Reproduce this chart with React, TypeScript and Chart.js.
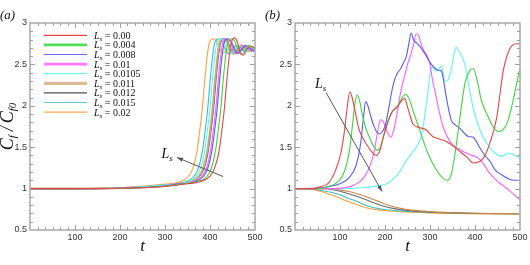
import React, { useEffect, useRef } from 'react';
import { Chart, registerables } from 'chart.js';
Chart.register(...registerables);

type P = [number, number];

const LS_LABELS = ['0.00', '0.004', '0.008', '0.01', '0.0105', '0.011', '0.012', '0.015', '0.02'];
const COLORS = ['#e64545', '#3ed43e', '#5a5af2', '#ff5cff', '#5cf5f5', '#c9a57e', '#555555', '#3fbdbd', '#ffa040'];
const COLORS_B = ['#e64545', '#3ed43e', '#5a5af2', '#ff5cff', '#5cf5f5', '#c88a4c', '#6a6a6a', '#3fbdbd', '#ffa040'];
const LEGEND_COLORS = ['#e64545', '#55dd55', '#6a6af5', '#ff77ff', '#77f7f7', '#dcbc98', '#555555', '#66c8c8', '#ffa850'];
const LEGEND_WIDTHS = [1.2, 2.6, 1.2, 2.6, 1.2, 3.2, 1.2, 1.2, 1.2];

const X_TICKS = [100, 200, 300, 400, 500];
const Y_TICKS = [0.5, 1, 1.5, 2, 2.5, 3];

// ---------- Panel (a) ----------
const a_L000: P[] = [[0,1],[100,1],[200,1.004],[300,1.025],[337,1.05],[381,1.09],[400,1.15],[411,1.26],[420,1.45],[426,1.69],[432,1.97],[437,2.29],[443,2.61],[448,2.77],[454,2.82],[461,2.77],[467,2.64],[474,2.61],[483,2.69],[493,2.72],[500,2.69]];
const a_L004: P[] = [[0,1],[100,1],[200,1.005],[300,1.028],[329,1.05],[373,1.085],[392,1.14],[403,1.245],[412,1.45],[418,1.69],[424,1.97],[429,2.29],[435,2.61],[440,2.77],[448,2.81],[455,2.78],[463,2.67],[470,2.62],[478,2.67],[487,2.73],[496,2.70],[500,2.69]];
const a_L008: P[] = [[0,1],[100,1],[200,1.005],[300,1.03],[321,1.05],[365,1.08],[384,1.14],[395,1.245],[404,1.45],[410,1.69],[416,1.97],[421,2.29],[427,2.61],[432,2.77],[440,2.81],[447,2.78],[455,2.68],[462,2.63],[470,2.67],[479,2.73],[488,2.70],[498,2.66],[500,2.67]];
const a_L010: P[] = [[0,1],[100,1],[200,1.005],[300,1.032],[318,1.05],[362,1.08],[381,1.14],[392,1.245],[401,1.45],[407,1.69],[413,1.97],[418,2.29],[424,2.61],[429,2.77],[437,2.81],[444,2.78],[452,2.68],[459,2.63],[467,2.67],[476,2.73],[485,2.70],[495,2.66],[500,2.68]];
const a_L0105: P[] = [[0,1],[100,1],[200,1.007],[300,1.042],[349,1.08],[368,1.14],[379,1.245],[388,1.45],[394,1.69],[400,1.97],[405,2.29],[411,2.61],[416,2.77],[424,2.81],[431,2.78],[439,2.68],[446,2.63],[454,2.67],[463,2.73],[472,2.70],[482,2.66],[495,2.70],[500,2.69]];
const a_L011: P[] = [[0,1],[100,1],[200,1.006],[300,1.037],[311,1.05],[355,1.08],[374,1.14],[385,1.245],[394,1.45],[400,1.69],[406,1.97],[411,2.29],[417,2.61],[422,2.77],[430,2.81],[437,2.78],[445,2.68],[452,2.63],[460,2.67],[469,2.73],[478,2.70],[488,2.66],[500,2.70]];
const a_L012: P[] = [[0,1],[100,1],[200,1.006],[300,1.036],[313,1.05],[357,1.08],[376,1.14],[387,1.245],[396,1.45],[402,1.69],[408,1.97],[413,2.29],[419,2.61],[424,2.77],[432,2.81],[439,2.78],[447,2.68],[454,2.63],[462,2.67],[471,2.73],[480,2.70],[490,2.66],[500,2.70]];
const a_L015: P[] = [[0,1],[100,1],[200,1.008],[300,1.045],[344,1.08],[363,1.14],[374,1.245],[383,1.45],[389,1.69],[395,1.97],[400,2.29],[406,2.61],[411,2.77],[419,2.81],[426,2.78],[434,2.68],[441,2.63],[449,2.67],[458,2.73],[467,2.70],[477,2.66],[490,2.70],[500,2.69]];
const a_L020: P[] = [[0,1],[100,1],[200,1.01],[288,1.05],[332,1.08],[351,1.14],[362,1.245],[371,1.45],[377,1.69],[383,1.97],[388,2.29],[394,2.61],[399,2.77],[407,2.81],[414,2.79],[422,2.69],[429,2.64],[437,2.67],[446,2.73],[455,2.70],[465,2.66],[478,2.70],[490,2.69],[500,2.70]];

// ---------- Panel (b) ----------
const b_L000: P[] = [[0,1],[40,1.0],[55,1.02],[75,1.07],[90,1.22],[102,1.43],[110,1.7],[116,1.98],[122,2.17],[127,2.1],[133,1.95],[142,1.72],[152,1.6],[163,1.5],[173,1.43],[181,1.40],[188,1.45],[195,1.6],[203,1.75],[215,1.92],[228,1.99],[243,2.09],[252,1.95],[262,1.78],[275,1.74],[291,1.71],[306,1.63],[320,1.6],[336,1.57],[350,1.52],[366,1.45],[382,1.38],[396,1.31],[408,1.32],[420,1.38],[433,1.55],[448,1.85],[463,2.43],[472,2.62],[481,2.72],[492,2.75],[500,2.75]];
const b_L004: P[] = [[0,1],[50,1.0],[70,1.02],[90,1.06],[105,1.15],[115,1.3],[122,1.5],[128,1.78],[133,2.02],[138,2.13],[144,2.05],[150,1.88],[158,1.72],[167,1.6],[176,1.5],[184,1.46],[190,1.5],[198,1.65],[207,1.82],[216,1.93],[228,2.0],[238,2.1],[246,2.14],[254,2.08],[263,1.93],[277,1.71],[295,1.43],[317,1.2],[330,1.12],[338,1.1],[346,1.15],[355,1.4],[362,1.67],[370,2.0],[378,2.28],[388,2.42],[396,2.45],[405,2.3],[414,2.07],[429,1.87],[440,1.75],[452,1.69],[462,1.71],[472,1.8],[485,2.07],[493,2.28],[500,2.45]];
const b_L008: P[] = [[0,1],[60,1.01],[80,1.03],[100,1.06],[120,1.13],[135,1.27],[146,1.55],[152,1.85],[157,2.05],[162,2.0],[168,1.88],[175,1.76],[182,1.68],[188,1.66],[194,1.69],[200,1.75],[209,1.99],[216,2.2],[221,2.31],[228,2.4],[235,2.45],[241,2.52],[247,2.59],[253,2.75],[258,2.88],[263,2.8],[270,2.76],[277,2.72],[284,2.67],[292,2.6],[299,2.53],[308,2.47],[318,2.43],[325,2.42],[331,2.28],[336,2.11],[347,1.83],[356,1.77],[366,1.73],[376,1.67],[385,1.63],[396,1.62],[404,1.56],[411,1.49],[422,1.4],[433,1.33],[444,1.23],[458,1.17],[474,1.12],[488,1.10],[500,1.10]];
const b_L010: P[] = [[0,1],[80,1.0],[110,1.01],[130,1.04],[145,1.09],[155,1.15],[165,1.25],[176,1.45],[183,1.67],[190,1.83],[196,1.81],[204,1.7],[213,1.62],[220,1.72],[228,1.95],[236,2.2],[243,2.35],[250,2.5],[258,2.63],[264,2.75],[269,2.87],[275,2.85],[280,2.75],[286,2.67],[294,2.6],[299,2.52],[306,2.3],[312,2.15],[318,1.99],[329,1.75],[344,1.57],[355,1.51],[366,1.47],[377,1.44],[388,1.41],[400,1.39],[411,1.35],[422,1.27],[433,1.18],[452,1.08],[478,0.97],[500,0.86]];
const b_L0105: P[] = [[0,1],[100,1.0],[150,1.01],[180,1.03],[200,1.05],[215,1.1],[232,1.2],[243,1.3],[254,1.39],[266,1.47],[275,1.55],[284,1.72],[290,1.95],[295,2.15],[300,2.38],[304,2.47],[309,2.45],[314,2.42],[320,2.45],[325,2.48],[329,2.4],[333,2.3],[338,2.3],[343,2.36],[348,2.46],[353,2.62],[358,2.71],[363,2.67],[368,2.62],[377,2.51],[383,2.35],[388,2.19],[394,2.02],[399,1.91],[405,1.8],[411,1.71],[418,1.62],[426,1.55],[435,1.48],[444,1.43],[452,1.4],[459,1.39],[467,1.41],[474,1.43],[480,1.42],[486,1.41],[493,1.39],[500,1.37]];
const b_L011: P[] = [[0,1],[80,1.0],[100,0.985],[120,0.965],[140,0.935],[165,0.89],[187,0.84],[209,0.795],[232,0.765],[260,0.74],[300,0.722],[373,0.705],[450,0.70],[500,0.70]];
const b_L012: P[] = [[0,1],[70,1.0],[98,0.97],[115,0.945],[135,0.91],[165,0.85],[195,0.79],[224,0.755],[260,0.73],[300,0.715],[373,0.705],[450,0.70],[500,0.70]];
const b_L015: P[] = [[0,1],[40,0.995],[60,0.975],[80,0.955],[98,0.93],[115,0.89],[135,0.85],[165,0.785],[195,0.75],[232,0.73],[300,0.715],[400,0.70],[500,0.695]];
const b_L020: P[] = [[0,1],[30,0.995],[50,0.975],[70,0.945],[98,0.89],[115,0.85],[135,0.81],[165,0.76],[190,0.74],[209,0.73],[260,0.715],[350,0.70],[500,0.688]];

const SERIES_A = [a_L000, a_L004, a_L008, a_L010, a_L0105, a_L011, a_L012, a_L015, a_L020];
const SERIES_B = [b_L000, b_L004, b_L008, b_L010, b_L0105, b_L011, b_L012, b_L015, b_L020];

const SERIF = '"Liberation Serif", "Times New Roman", serif';
const SANS = '"Liberation Sans", Arial, sans-serif';

type Part = { text: string; font: string; dy?: number; gap?: number };
function drawRich(ctx: CanvasRenderingContext2D, x: number, y: number, parts: Part[], align: 'left' | 'center' = 'left') {
  let w = 0;
  for (const p of parts) { ctx.font = p.font; w += ctx.measureText(p.text).width + (p.gap || 0); }
  let cx = align === 'center' ? x - w / 2 : x;
  for (const p of parts) {
    ctx.font = p.font;
    ctx.fillText(p.text, cx, y + (p.dy || 0));
    cx += ctx.measureText(p.text).width + (p.gap || 0);
  }
}

function drawArrow(ctx: CanvasRenderingContext2D, x0: number, y0: number, x1: number, y1: number) {
  ctx.save();
  ctx.strokeStyle = '#555';
  ctx.fillStyle = '#555';
  ctx.lineWidth = 1;
  ctx.beginPath();
  ctx.moveTo(x0, y0);
  ctx.lineTo(x1, y1);
  ctx.stroke();
  const ang = Math.atan2(y1 - y0, x1 - x0);
  const L = 6, W = 2.2;
  ctx.beginPath();
  ctx.moveTo(x1, y1);
  ctx.lineTo(x1 - L * Math.cos(ang) + W * Math.sin(ang), y1 - L * Math.sin(ang) - W * Math.cos(ang));
  ctx.lineTo(x1 - L * Math.cos(ang) - W * Math.sin(ang), y1 - L * Math.sin(ang) + W * Math.cos(ang));
  ctx.closePath();
  ctx.fill();
  ctx.restore();
}

function makeDecor(panel: 'a' | 'b') {
  return {
    id: 'decor_' + panel,
    afterDatasetsDraw(chart: any) {
      const ctx: CanvasRenderingContext2D = chart.ctx;
      const { left, right, top, bottom } = chart.chartArea;
      const xs = chart.scales.x, ys = chart.scales.y;
      ctx.save();
      // frame
      ctx.strokeStyle = '#a9a9a9';
      ctx.lineWidth = 1.5;
      ctx.strokeRect(left, top, right - left, bottom - top);
      // ticks
      ctx.lineWidth = 1;
      ctx.strokeStyle = '#a0a0a0';
      ctx.beginPath();
      for (let i = 1; i < 30; i++) {
        const v = (i * 100) / 6;
        const px = Math.round(xs.getPixelForValue(v)) + 0.5;
        const L = i % 6 === 0 ? 5 : 3;
        ctx.moveTo(px, bottom); ctx.lineTo(px, bottom - L);
        ctx.moveTo(px, top); ctx.lineTo(px, top + L);
      }
      for (let i = 1; i < 25; i++) {
        const v = 0.5 + i * 0.1;
        const py = Math.round(ys.getPixelForValue(v)) + 0.5;
        const L = i % 5 === 0 ? 5 : 3;
        ctx.moveTo(left, py); ctx.lineTo(left + L, py);
        ctx.moveTo(right, py); ctx.lineTo(right - L, py);
      }
      ctx.stroke();

      ctx.fillStyle = '#111';
      ctx.textBaseline = 'alphabetic';
      // panel label
      drawRich(ctx, 0, 19, [{ text: panel === 'a' ? '(a)' : '(b)', font: 'italic 13px ' + SERIF }]);
      // x title
      drawRich(ctx, (left + right) / 2, 251, [{ text: 't', font: 'italic 17px ' + SERIF }], 'center');

      if (panel === 'a') {
        // y title rotated
        ctx.save();
        ctx.translate(13, (top + bottom) / 2);
        ctx.rotate(-Math.PI / 2);
        drawRich(ctx, 0, 0, [
          { text: 'C', font: 'italic 18px ' + SERIF },
          { text: 'f', font: 'italic 11px ' + SERIF, dy: 3, gap: 4 },
          { text: '/', font: 'italic 18px ' + SERIF, gap: 3 },
          { text: 'C', font: 'italic 18px ' + SERIF },
          { text: 'f0', font: 'italic 11px ' + SERIF, dy: 3 },
        ], 'center');
        ctx.restore();

        // legend
        const x0 = 44, x1 = 87, tx = 94, y0 = 35.3, dy = 9.6;
        for (let i = 0; i < LS_LABELS.length; i++) {
          const y = y0 + i * dy;
          ctx.strokeStyle = LEGEND_COLORS[i];
          ctx.lineWidth = LEGEND_WIDTHS[i];
          ctx.beginPath();
          ctx.moveTo(x0, y); ctx.lineTo(x1, y);
          ctx.stroke();
          ctx.fillStyle = '#111';
          drawRich(ctx, tx, y + 3.5, [
            { text: 'L', font: 'italic 10px ' + SERIF },
            { text: 's', font: 'italic 7px ' + SERIF, dy: 2 },
            { text: ' = ' + LS_LABELS[i], font: '10px ' + SERIF },
          ]);
        }
        // arrow
        drawArrow(ctx, 223, 176.5, 177, 157.5);
        ctx.fillStyle = '#111';
        drawRich(ctx, 161.5, 158, [
          { text: 'L', font: 'italic 14px ' + SERIF },
          { text: 's', font: 'italic 9px ' + SERIF, dy: 3 },
        ]);
      } else {
        drawArrow(ctx, 326 - 265, 92.5, 382 - 265, 191.5);
        ctx.fillStyle = '#111';
        drawRich(ctx, 315 - 265, 88, [
          { text: 'L', font: 'italic 14px ' + SERIF },
          { text: 's', font: 'italic 9px ' + SERIF, dy: 3 },
        ]);
      }
      ctx.restore();
    },
  };
}

function makeConfig(panel: 'a' | 'b'): any {
  const series = panel === 'a' ? SERIES_A : SERIES_B;
  const colors = panel === 'a' ? COLORS : COLORS_B;
  const datasets = series.map((s, i) => ({
    label: 'Ls = ' + LS_LABELS[i],
    data: s.map(([x, y]) => ({ x, y })),
    borderColor: colors[i],
    borderWidth: panel === 'a' && i === 5 ? 2 : 1.1,
    pointRadius: 0,
    fill: false,
    cubicInterpolationMode: 'monotone',
  }));
  return {
    type: 'line',
    data: { datasets },
    options: {
      animation: false,
      responsive: false,
      devicePixelRatio: 1,
      layout: { padding: { top: 23, right: 10, left: 0, bottom: 0 } },
      plugins: { legend: { display: false }, tooltip: { enabled: false } },
      scales: {
        x: {
          type: 'linear',
          min: 0,
          max: 500,
          afterBuildTicks: (s: any) => { s.ticks = X_TICKS.map((v) => ({ value: v })); },
          afterFit: (s: any) => { s.height = 35; },
          ticks: { font: { family: SANS, size: 9 }, color: '#333', padding: 2, maxRotation: 0, autoSkip: false, callback: (v: any) => String(v) },
          grid: { display: false, drawTicks: false },
          border: { display: false },
        },
        y: {
          type: 'linear',
          min: 0.5,
          max: 3,
          afterBuildTicks: (s: any) => { s.ticks = Y_TICKS.map((v) => ({ value: v })); },
          afterFit: (s: any) => { s.width = 30; },
          ticks: { font: { family: SANS, size: 9 }, color: '#333', padding: 3, autoSkip: false, callback: (v: any) => String(v) },
          grid: { display: false, drawTicks: false },
          border: { display: false },
        },
      },
    },
    plugins: [makeDecor(panel)],
  };
}

function Panel({ panel }: { panel: 'a' | 'b' }) {
  const ref = useRef<HTMLCanvasElement>(null);
  useEffect(() => {
    if (!ref.current) return;
    const chart = new Chart(ref.current, makeConfig(panel));
    return () => chart.destroy();
  }, [panel]);
  return (
    <canvas
      ref={ref}
      width={265}
      height={265}
      style={{ position: 'absolute', left: panel === 'a' ? 0 : 265, top: 0, width: 265, height: 265 }}
    />
  );
}

export default function App() {
  return (
    <div style={{ position: 'absolute', left: 0, top: 0, width: 530, height: 265, background: '#fff' }}>
      <Panel panel="a" />
      <Panel panel="b" />
    </div>
  );
}
